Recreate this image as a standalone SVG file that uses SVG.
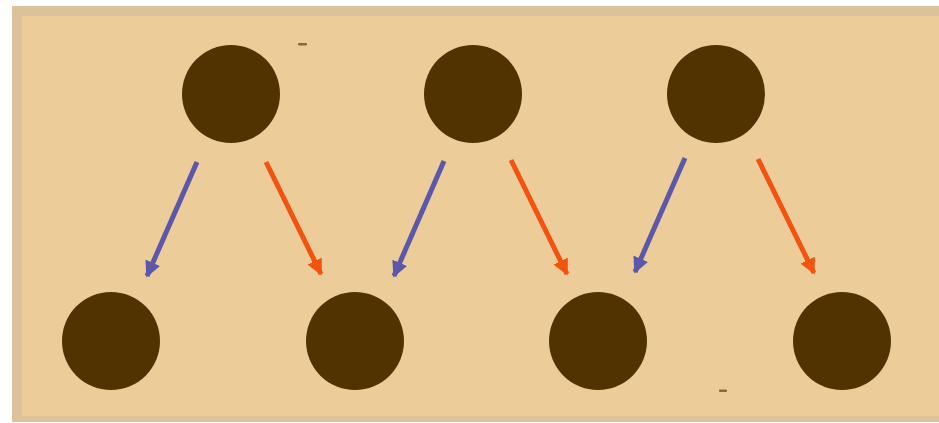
<svg xmlns="http://www.w3.org/2000/svg" width="939" height="423" viewBox="0 0 939 423">
<defs>
<marker id="ab" viewBox="0 0 10 10" refX="9" refY="5" markerWidth="3.2" markerHeight="3.2" orient="auto" markerUnits="strokeWidth"><path d="M0,0 L10,5 L0,10 z" fill="#5b58aa"/></marker>
<marker id="ar" viewBox="0 0 10 10" refX="9" refY="5" markerWidth="3.2" markerHeight="3.2" orient="auto" markerUnits="strokeWidth"><path d="M0,0 L10,5 L0,10 z" fill="#f2540f"/></marker>
</defs>
<style>
.n{fill:#503300}
.b{stroke:#5b58aa;stroke-width:5;fill:none;marker-end:url(#ab)}
.r{stroke:#f2540f;stroke-width:5;fill:none;marker-end:url(#ar)}
</style>
<rect x="0" y="0" width="939" height="423" fill="#ffffff"/>
<rect x="12" y="6" width="935" height="416" fill="#dbc29a"/>
<rect x="22" y="16" width="925" height="400" fill="#eccd9a"/>
<rect x="298" y="43" width="9" height="2.5" rx="1" fill="#6b5020" opacity="0.8"/>
<rect x="719" y="389.5" width="8" height="2.5" rx="1" fill="#6b5020" opacity="0.8"/>
<g id="connectors">
<line class="b" x1="197" y1="162" x2="147" y2="276"/>
<line class="r" x1="266" y1="162" x2="321" y2="274"/>
<line class="b" x1="444" y1="161" x2="394" y2="276"/>
<line class="r" x1="511" y1="160" x2="567" y2="274"/>
<line class="b" x1="685" y1="158" x2="635" y2="272"/>
<line class="r" x1="758" y1="159" x2="814" y2="273"/>
</g>
<g id="t1"><circle class="n" cx="231" cy="94" r="49"/></g>
<g id="t2"><circle class="n" cx="473" cy="94" r="49"/></g>
<g id="t3"><circle class="n" cx="716" cy="94" r="49"/></g>
<g id="b1"><circle class="n" cx="111" cy="341" r="49"/></g>
<g id="b2"><circle class="n" cx="355" cy="341" r="49"/></g>
<g id="b3"><circle class="n" cx="598" cy="341" r="49"/></g>
<g id="b4"><circle class="n" cx="842" cy="341" r="49"/></g>
</svg>
